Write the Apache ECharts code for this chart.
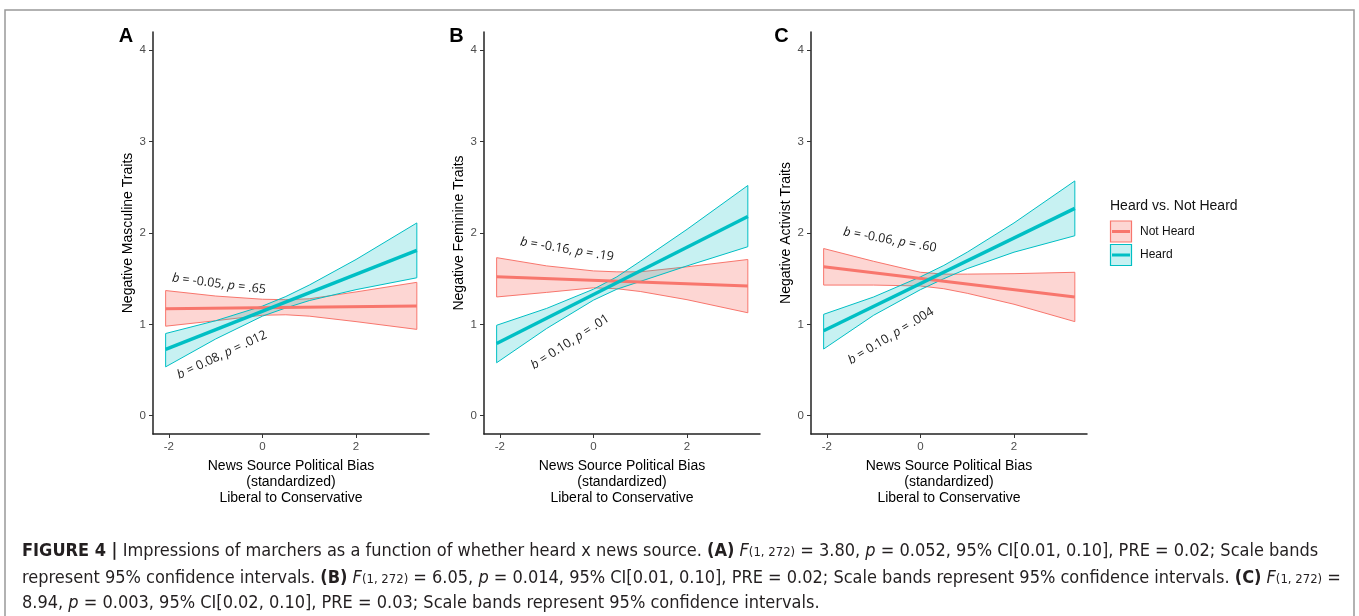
<!DOCTYPE html>
<html>
<head>
<meta charset="utf-8">
<script src="https://cdn.jsdelivr.net/npm/echarts@6/dist/echarts.min.js"></script>
<style>
html, body { margin: 0; padding: 0; background: #fff; }
#main { width: 1359px; height: 616px; }
</style>
</head>
<body>
<div id="main"></div>
<script>
var bandX = [-2.07, -1, 0, 0.5, 1, 2, 3.30];
var fitX = [-2.07, 3.30];
var xTicks = [-2, 0, 2];
var yTicks = [0, 1, 2, 3, 4];

// A: masculine traits
var aNotFit = [1.17, 1.20];
var aNotHi = [1.37, 1.31, 1.275, 1.27, 1.28, 1.355, 1.46];
var aNotLo = [0.98, 1.04, 1.10, 1.105, 1.09, 1.03, 0.945];
var aHeardFit = [0.727, 1.81];
var aHeardHi = [0.90, 1.04, 1.20, 1.305, 1.43, 1.71, 2.11];
var aHeardLo = [0.535, 0.84, 1.09, 1.18, 1.26, 1.38, 1.51];

// B: feminine traits
var bNotFit = [1.52, 1.42];
var bNotHi = [1.73, 1.64, 1.585, 1.575, 1.575, 1.63, 1.71];
var bNotLo = [1.30, 1.35, 1.40, 1.39, 1.36, 1.27, 1.127];
var bHeardFit = [0.79, 2.18];
var bHeardHi = [0.99, 1.175, 1.385, 1.52, 1.69, 2.04, 2.52];
var bHeardLo = [0.58, 0.955, 1.265, 1.385, 1.47, 1.64, 1.85];

// C: activist traits
var cNotFit = [1.63, 1.30];
var cNotHi = [1.83, 1.69, 1.57, 1.55, 1.55, 1.555, 1.57];
var cNotLo = [1.43, 1.43, 1.42, 1.39, 1.34, 1.22, 1.03];
var cHeardFit = [0.93, 2.27];
var cHeardHi = [1.11, 1.30, 1.52, 1.645, 1.79, 2.11, 2.57];
var cHeardLo = [0.73, 1.10, 1.38, 1.50, 1.61, 1.79, 1.97];

var yNames = ['Negative Masculine Traits', 'Negative Feminine Traits', 'Negative Activist Traits'];
var xName = 'News Source Political Bias\n(standardized)\nLiberal to Conservative';
var annotations = [
  ['b = -0.05, ', 'p = .65'], ['b = 0.08, ', 'p = .012'],
  ['b = -0.16, ', 'p = .19'], ['b = 0.10, ', 'p = .01'],
  ['b = -0.06, ', 'p = .60'], ['b = 0.10, ', 'p = .004']
];

var RED = '#F8766D', TEAL = '#00BFC4';
var AXFONT = 'Liberation Sans';

var dom = document.getElementById('main');
var myChart = echarts.init(dom);

var gridLefts = [153, 484, 811];
var grids = gridLefts.map(function (l) {
  return { left: l, top: 32, width: 276, height: 402, outerBoundsMode: 'none' };
});

function xAx(i) {
  return {
    gridIndex: i, type: 'value', min: -2.34, max: 3.56,
    axisLine: { show: true, onZero: false, lineStyle: { color: '#222', width: 1.5 } },
    axisTick: { show: true, customValues: xTicks, length: 4, lineStyle: { color: '#333' } },
    axisLabel: { customValues: xTicks, color: '#4d4d4d', fontSize: 11.5, margin: 7, fontFamily: AXFONT },
    splitLine: { show: false },
    name: xName, nameLocation: 'middle', nameGap: 20,
    nameTextStyle: { color: '#000', fontSize: 14, lineHeight: 16, fontFamily: AXFONT }
  };
}
function yAx(i) {
  return {
    gridIndex: i, type: 'value', min: -0.2, max: 4.2,
    axisLine: { show: true, onZero: false, lineStyle: { color: '#222', width: 1.5 } },
    axisTick: { show: true, customValues: yTicks, length: 4, lineStyle: { color: '#333' } },
    axisLabel: { customValues: yTicks, color: '#4d4d4d', fontSize: 11.5, margin: 7, fontFamily: AXFONT },
    splitLine: { show: false },
    name: yNames[i], nameLocation: 'middle', nameGap: 18,
    nameTextStyle: { color: '#000', fontSize: 14, fontFamily: AXFONT }
  };
}

function band(i, lo, hi, stroke, fill) {
  return {
    type: 'custom', xAxisIndex: i, yAxisIndex: i, silent: true, z: 2,
    data: [[bandX[0], lo[0]]],
    renderItem: function (params, api) {
      var pts = [];
      for (var k = 0; k < bandX.length; k++) pts.push(api.coord([bandX[k], hi[k]]));
      for (var j = bandX.length - 1; j >= 0; j--) pts.push(api.coord([bandX[j], lo[j]]));
      return { type: 'polygon', shape: { points: pts }, style: { fill: fill, stroke: stroke, lineWidth: 1 } };
    }
  };
}
function fit(i, ys, color, w) {
  return {
    type: 'line', xAxisIndex: i, yAxisIndex: i, silent: true, z: 3,
    symbol: 'none', animation: false,
    lineStyle: { color: color, width: w },
    data: [[fitX[0], ys[0]], [fitX[1], ys[1]]]
  };
}

var series = [];
var panels = [
  [aNotLo, aNotHi, aNotFit, aHeardLo, aHeardHi, aHeardFit],
  [bNotLo, bNotHi, bNotFit, bHeardLo, bHeardHi, bHeardFit],
  [cNotLo, cNotHi, cNotFit, cHeardLo, cHeardHi, cHeardFit]
];
panels.forEach(function (p, i) {
  series.push(band(i, p[0], p[1], RED, 'rgba(248,118,109,0.3)'));
  series.push(band(i, p[3], p[4], TEAL, 'rgba(0,191,196,0.22)'));
  series.push(fit(i, p[2], RED, 3));
  series.push(fit(i, p[5], TEAL, 3.5));
});

// annotation texts: [x, y, rotation]
var annPos = [
  [219, 284, -0.126], [222, 355, 0.44],
  [567, 249.5, -0.164], [570, 342, 0.572],
  [890, 240, -0.176], [891, 336, 0.546]
];
var graphics = [];
annPos.forEach(function (a, k) {
  var t = annotations[k];
  graphics.push({
    type: 'text', x: a[0], y: a[1], rotation: a[2], silent: true,
    style: {
      text: '{i|b}' + t[0].slice(1) + '{i|p}' + t[1].slice(1),
      align: 'center', verticalAlign: 'middle', fill: '#1a1a1a',
      fontSize: 12.5, fontFamily: 'Open Sans',
      rich: { i: { fontStyle: 'italic', fontSize: 12.5, fontFamily: 'Open Sans', fill: '#1a1a1a' } }
    }
  });
});

// panel letters
[['A', 126], ['B', 456.5], ['C', 781.5]].forEach(function (l) {
  graphics.push({
    type: 'text', x: l[1], y: 36, silent: true,
    style: { text: l[0], align: 'center', verticalAlign: 'middle', fill: '#000',
      fontSize: 20, fontWeight: 'bold', fontFamily: AXFONT }
  });
});

// legend
graphics.push({ type: 'text', x: 1110, y: 206, silent: true,
  style: { text: 'Heard vs. Not Heard', verticalAlign: 'middle', fill: '#111', fontSize: 14, fontFamily: AXFONT } });
[['Not Heard', RED, 'rgba(248,118,109,0.3)', 221], ['Heard', TEAL, 'rgba(0,191,196,0.22)', 244.5]].forEach(function (g) {
  graphics.push({ type: 'rect', silent: true, shape: { x: 1110.5, y: g[3], width: 21, height: 21 },
    style: { fill: g[2], stroke: g[1], lineWidth: 1.2 } });
  graphics.push({ type: 'line', silent: true, shape: { x1: 1112, y1: g[3] + 10.5, x2: 1130, y2: g[3] + 10.5 },
    style: { stroke: g[1], lineWidth: 3 } });
  graphics.push({ type: 'text', x: 1140, y: g[3] + 10.5, silent: true,
    style: { text: g[0], verticalAlign: 'middle', fill: '#111', fontSize: 12, fontFamily: AXFONT } });
});

// frame
graphics.push({ type: 'rect', silent: true, shape: { x: 5, y: 10, width: 1349, height: 640 },
  style: { fill: 'none', stroke: '#999', lineWidth: 1.5 } });

// caption
var CAPFONT = "'Liberation Sans Narrow', 'DejaVu Sans Condensed', sans-serif";
var CAPSIZE = 18;
var capRich = {
  b: { fontWeight: 'bold', fontSize: CAPSIZE, fontFamily: CAPFONT, fill: '#231f20' },
  i: { fontStyle: 'italic', fontSize: CAPSIZE, fontFamily: CAPFONT, fill: '#231f20' },
  s: { fontSize: 13, fontFamily: CAPFONT, fill: '#231f20', verticalAlign: 'bottom', lineHeight: 17 }
};
var capLines = [
  '{b|FIGURE 4 |} Impressions of marchers as a function of whether heard x news source. {b|(A)} {i|F}{s|(1, 272)} = 3.80, {i|p} = 0.052, 95% CI[0.01, 0.10], PRE = 0.02; Scale bands',
  'represent 95% confidence intervals. {b|(B)} {i|F}{s|(1, 272)} = 6.05, {i|p} = 0.014, 95% CI[0.01, 0.10], PRE = 0.02; Scale bands represent 95% confidence intervals. {b|(C)} {i|F}{s|(1, 272)} =',
  '8.94, {i|p} = 0.003, 95% CI[0.02, 0.10], PRE = 0.03; Scale bands represent 95% confidence intervals.'
];
[551, 578, 603].forEach(function (y, k) {
  graphics.push({ type: 'text', x: 22, y: y, silent: true,
    style: { text: capLines[k], verticalAlign: 'middle', fill: '#231f20', fontSize: CAPSIZE,
      fontFamily: CAPFONT, lineHeight: 17, rich: capRich } });
});

var option = {
  backgroundColor: '#fff',
  animation: false,
  grid: grids,
  xAxis: [xAx(0), xAx(1), xAx(2)],
  yAxis: [yAx(0), yAx(1), yAx(2)],
  series: series,
  graphic: graphics
};

if (option && typeof option === "object") {
  myChart.setOption(option, true);
}
</script>
</body>
</html>
